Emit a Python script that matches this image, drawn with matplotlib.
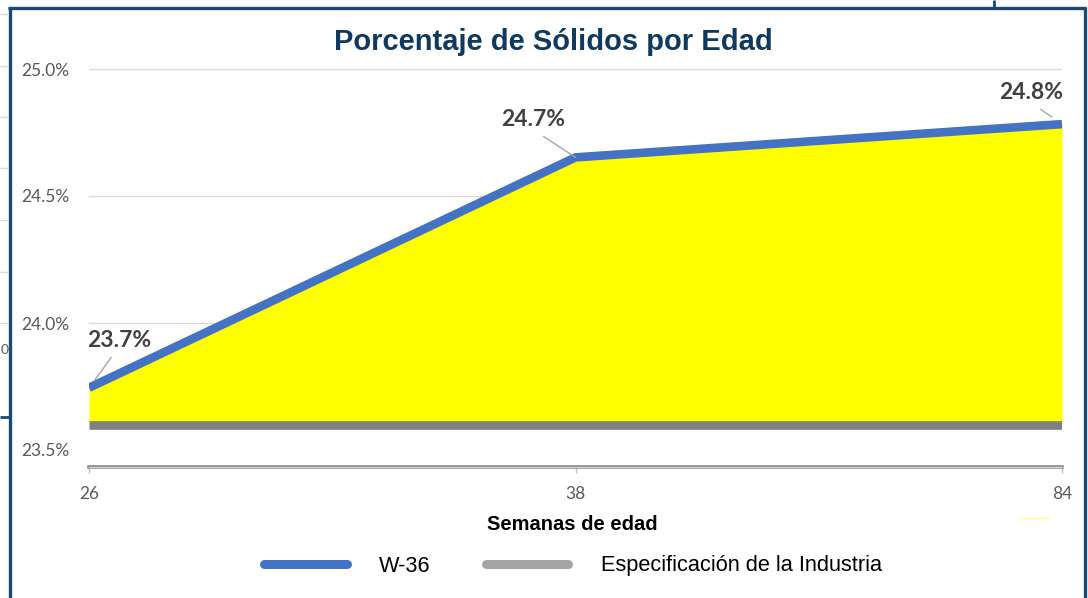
import matplotlib.pyplot as plt
from matplotlib.lines import Line2D
from matplotlib import font_manager

# --- données ---
semanas = ['26', '38', '84']
w36 = [23.745, 24.652, 24.783]
especificacion = [23.60, 23.60, 23.60]
etiquetas = ['23.7%', '24.7%', '24.8%']
yticks = [23.5, 24.0, 24.5, 25.0]

W, H = 1088, 598
AZUL = '#4472C4'
GRIS_SPEC = '#808080'
GRIS_LEY = '#A5A5A5'
NAVY = '#1A4A74'
TXT = '#595959'

narrow = ['Liberation Sans', 'DejaVu Sans']
calib = ['Lato', 'DejaVu Sans']


def fx(x):
    return x / W


def fy(y):
    return 1 - y / H


fig = plt.figure(figsize=(W / 100, H / 100), dpi=100)
fig.patch.set_facecolor('white')

# plot area : x 89..1062 px, y 66..467 px
ax = fig.add_axes([fx(89), fy(467), fx(1062) - fx(89), fy(66) - fy(467)])
x = list(range(len(semanas)))

ax.fill_between(x, especificacion, w36, color='#FFFF00', lw=0, zorder=2)
ax.plot(x, especificacion, color=GRIS_SPEC, lw=6.2, solid_capstyle='butt', zorder=3)
ax.plot(x, w36, color=AZUL, lw=6.2, solid_capstyle='butt', zorder=4)

ax.set_xlim(0, 2)
ax.set_ylim(23.5 - 17 / 254, 23.5 + 384 / 254)
ax.set_xticks(x)
ax.set_xticklabels(semanas)
ax.set_yticks(yticks)
ax.set_yticklabels([f'{v:.1f}%' for v in yticks])
for v in yticks[1:]:
    ax.axhline(v, color='#D9D9D9', lw=1, zorder=1)

for s in ['top', 'right', 'left']:
    ax.spines[s].set_visible(False)
ax.spines['bottom'].set_color('#8C8C8C')
ax.spines['bottom'].set_linewidth(2.6)
ax.plot([0, 1], [0, 0], transform=ax.transAxes, color='#E0E0E0', lw=0.7,
        clip_on=False, zorder=6)

ax.tick_params(axis='y', length=0, pad=14, labelcolor=TXT, labelsize=12.5)
ax.tick_params(axis='x', length=4, color='#BFBFBF', width=1, pad=10,
               labelcolor=TXT, labelsize=12.5)
for lab in ax.get_xticklabels() + ax.get_yticklabels():
    lab.set_family(calib)

# etiquetas de datos con líneas guía
desplaz = [(30, 47, 0.45, 3, 6.5), (-42, 38, 0.5, 5, 0), (-31, 32, 0.5, 5, 9)]
for i, (t, (dx, dy, rp, sa, sb)) in enumerate(zip(etiquetas, desplaz)):
    ax.annotate(t, xy=(i, w36[i]), xytext=(dx, dy), textcoords='offset pixels',
                ha='center', va='center', fontsize=16.5, fontweight='bold',
                color='#404040', family=calib, zorder=7, annotation_clip=False,
                arrowprops=dict(arrowstyle='-', color='#A6A6A6', lw=1,
                                relpos=(rp, 0), shrinkA=sa, shrinkB=sb))

# título y eje
fig.text(fx(553), fy(42), 'Porcentaje de Sólidos por Edad', ha='center',
         va='center', fontsize=21, fontweight='bold', color='#0F3A5F',
         family=narrow)
fig.text(fx(572), fy(525), 'Semanas de edad', ha='center', va='center',
         fontsize=14.5, fontweight='bold', color='black', family=narrow)

# leyenda
handles = [Line2D([], [], color=AZUL, lw=6.5, solid_capstyle='round'),
           Line2D([], [], color=GRIS_LEY, lw=6.5, solid_capstyle='round')]
leg = fig.legend(handles, ['W-36', 'Especificación de la Industria'],
                 loc='center', bbox_to_anchor=(fx(573), fy(566)), ncol=2,
                 frameon=False, handlelength=3.8, handletextpad=1.5,
                 columnspacing=2.5,
                 prop=font_manager.FontProperties(family=narrow, size=15.7))

# marco y restos del recorte
def linea(xs, ys, c, lw):
    fig.add_artist(Line2D([fx(v) for v in xs], [fy(v) for v in ys],
                          color=c, lw=lw, solid_capstyle='butt'))


linea([9.5, 9.5], [7, 598], NAVY, 2.4)
linea([8, 1085.5], [8, 8], NAVY, 2.4)
linea([1084.5, 1084.5], [7, 598], NAVY, 2.4)
linea([994, 994], [0, 8], NAVY, 2)
linea([0, 9], [417, 417], NAVY, 2)
for yy in [14, 66, 117, 168, 220, 272, 323]:
    linea([0, 8], [yy, yy], '#D9D9D9', 1)
fig.text(fx(0.5), fy(350), '0', ha='left', va='center', fontsize=10,
         color=TXT, family=calib)
linea([1020, 1050], [518, 518], '#FFFF88', 1)

fig.savefig('out.png', dpi=100)
